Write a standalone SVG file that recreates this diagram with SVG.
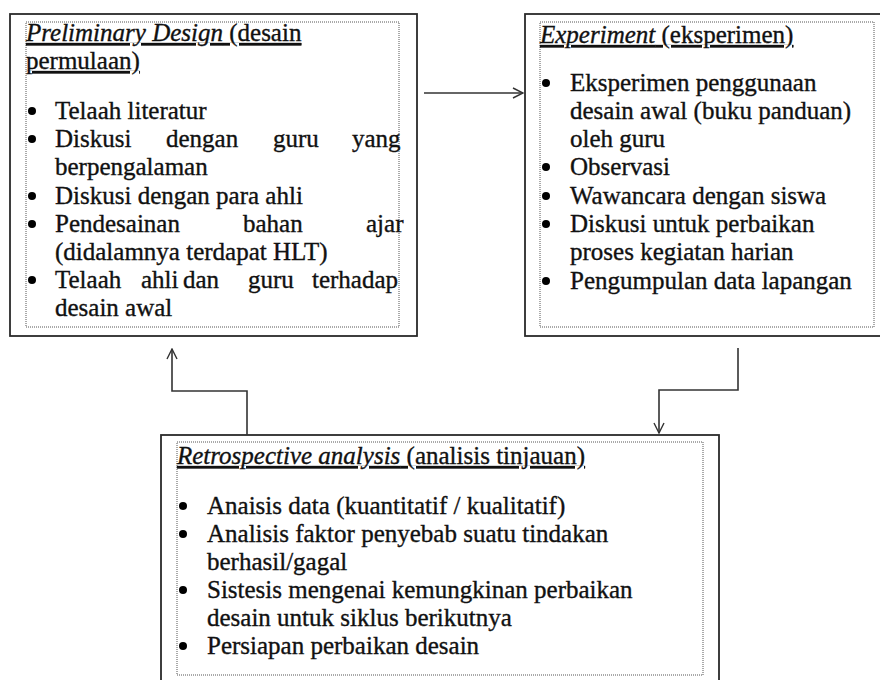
<svg xmlns="http://www.w3.org/2000/svg" width="880" height="680" viewBox="0 0 880 680">
  <defs>
    <style>
      .outer { fill: #ffffff; stroke: #2a2a2a; stroke-width: 1.8; }
      .inner { fill: none; stroke: #555555; stroke-width: 1; stroke-dasharray: 1 1; }
      .t { font-family: 'Liberation Serif', Tinos, 'Times New Roman', 'DejaVu Serif', serif; font-size: 25px; fill: #111111; }
      .t text { stroke: #111111; stroke-width: 0.35; }
      .it { font-style: italic; }
      .ul { text-decoration: underline; }
      .dot { fill: #000000; }
      .conn { fill: none; stroke: #333333; stroke-width: 1.6; }
    </style>
    <marker id="arr" viewBox="0 0 12 12" refX="11" refY="6" markerWidth="12" markerHeight="12" markerUnits="userSpaceOnUse" orient="auto">
      <path d="M1,1 L11,6 L1,11" fill="none" stroke="#333333" stroke-width="1.4"/>
    </marker>
  </defs>
  <rect width="880" height="680" fill="#ffffff"/>

  <g id="preliminary-design" class="t" font-family="Liberation Serif, serif">
    <rect class="outer" x="10" y="14" width="407" height="322"/>
    <rect class="inner" x="26" y="22" width="373" height="305"/>
    <text x="26" y="41" class="ul"><tspan class="it">Preliminary Design</tspan> (desain</text>
    <text x="26" y="69" class="ul">permulaan)</text>
    <circle class="dot" cx="32" cy="111" r="4"/>
    <text x="55" y="119">Telaah literatur</text>
    <circle class="dot" cx="32" cy="139" r="4"/>
    <text y="147"><tspan x="55">Diskusi</tspan><tspan x="166">dengan</tspan><tspan x="273">guru</tspan><tspan x="352">yang</tspan></text>
    <text x="55" y="175">berpengalaman</text>
    <circle class="dot" cx="32" cy="196" r="4"/>
    <text x="55" y="204">Diskusi dengan para ahli</text>
    <circle class="dot" cx="32" cy="224" r="4"/>
    <text y="232"><tspan x="55">Pendesainan</tspan><tspan x="243">bahan</tspan><tspan x="366">ajar</tspan></text>
    <text x="55" y="260">(didalamnya terdapat HLT)</text>
    <circle class="dot" cx="32" cy="280" r="4"/>
    <text y="288"><tspan x="55">Telaah</tspan><tspan x="141">ahli</tspan><tspan x="183">dan</tspan><tspan x="248">guru</tspan><tspan x="312">terhadap</tspan></text>
    <text x="55" y="316">desain awal</text>
  </g>

  <g id="experiment" class="t" font-family="Liberation Serif, serif">
    <rect class="outer" x="525" y="14" width="365" height="322"/>
    <rect class="inner" x="540" y="22" width="334" height="305"/>
    <text x="540" y="43" class="ul"><tspan class="it">Experiment</tspan> (eksperimen)</text>
    <circle class="dot" cx="546" cy="83" r="4"/>
    <text x="570" y="91">Eksperimen penggunaan</text>
    <text x="570" y="119">desain awal (buku panduan)</text>
    <text x="570" y="147">oleh guru</text>
    <circle class="dot" cx="546" cy="167" r="4"/>
    <text x="570" y="175">Observasi</text>
    <circle class="dot" cx="546" cy="196" r="4"/>
    <text x="570" y="204">Wawancara dengan siswa</text>
    <circle class="dot" cx="546" cy="224" r="4"/>
    <text x="570" y="232">Diskusi untuk perbaikan</text>
    <text x="570" y="260">proses kegiatan harian</text>
    <circle class="dot" cx="546" cy="281" r="4"/>
    <text x="570" y="289">Pengumpulan data lapangan</text>
  </g>

  <g id="retrospective-analysis" class="t" font-family="Liberation Serif, serif">
    <rect class="outer" x="161" y="435" width="558" height="260"/>
    <rect class="inner" x="177" y="442" width="526" height="233"/>
    <text x="177" y="464" class="ul"><tspan class="it">Retrospective analysis</tspan> (analisis tinjauan)</text>
    <circle class="dot" cx="183" cy="506" r="4"/>
    <text x="207" y="514">Anaisis data (kuantitatif / kualitatif)</text>
    <circle class="dot" cx="183" cy="534" r="4"/>
    <text x="207" y="542">Analisis faktor penyebab suatu tindakan</text>
    <text x="207" y="570">berhasil/gagal</text>
    <circle class="dot" cx="183" cy="590" r="4"/>
    <text x="207" y="598">Sistesis mengenai kemungkinan perbaikan</text>
    <text x="207" y="626">desain untuk siklus berikutnya</text>
    <circle class="dot" cx="183" cy="646" r="4"/>
    <text x="207" y="654">Persiapan perbaikan desain</text>
  </g>

  <g id="connectors">
    <path class="conn" d="M424,93 L523,93" marker-end="url(#arr)"/>
    <path class="conn" d="M738,348 L738,390 L659,390 L659,433" marker-end="url(#arr)"/>
    <path class="conn" d="M247,435 L247,391 L172,391 L172,349" marker-end="url(#arr)"/>
  </g>
</svg>
